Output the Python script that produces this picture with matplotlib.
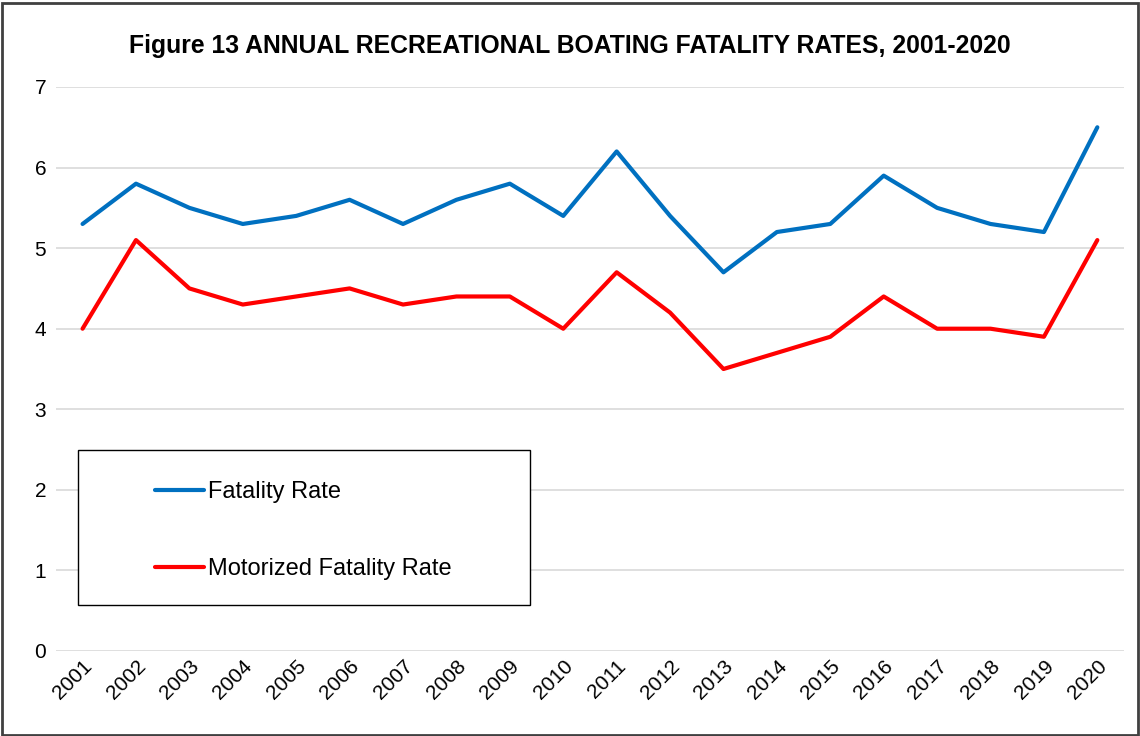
import matplotlib.pyplot as plt
from matplotlib.patches import Rectangle

# ---------- data ----------
years = [str(y) for y in range(2001, 2021)]
fatality_rate = [5.3, 5.8, 5.5, 5.3, 5.4, 5.6, 5.3, 5.6, 5.8, 5.4,
                 6.2, 5.4, 4.7, 5.2, 5.3, 5.9, 5.5, 5.3, 5.2, 6.5]
motorized_rate = [4.0, 5.1, 4.5, 4.3, 4.4, 4.5, 4.3, 4.4, 4.4, 4.0,
                  4.7, 4.2, 3.5, 3.7, 3.9, 4.4, 4.0, 4.0, 3.9, 5.1]
y_ticks = list(range(0, 8))

plt.rcParams['font.family'] = ['Liberation Sans', 'DejaVu Sans']

fig = plt.figure(figsize=(11.4, 7.36), dpi=100)
ax = fig.add_axes([0.049, 0.1155, 0.937, 0.7663])

x = range(len(years))
ax.plot(x, fatality_rate, color='#0070C0', lw=3.0, label='Fatality Rate',
        solid_joinstyle='round', solid_capstyle='round')
ax.plot(x, motorized_rate, color='#FF0000', lw=3.0, label='Motorized Fatality Rate',
        solid_joinstyle='round', solid_capstyle='round')

ax.set_xlim(-0.5, len(years) - 0.5)
ax.set_ylim(0, 7)
ax.set_yticks(y_ticks)
ax.set_yticklabels([str(v) for v in y_ticks], fontsize=15)
ax.set_xticks(list(x))
ax.set_xticklabels(years, rotation=45, ha='right', rotation_mode='anchor', fontsize=15)
ax.tick_params(axis='both', length=0)
ax.tick_params(axis='y', pad=7)
ax.tick_params(axis='x', pad=4)

ax.grid(axis='y', color='#d9d9d9', lw=1.2)
ax.set_axisbelow(True)
for s in ax.spines.values():
    s.set_visible(False)

# legend box drawn separately, entries placed inside it
ax.add_patch(Rectangle((0.0206, 0.0816), 0.4232, 0.2748, transform=ax.transAxes,
                       facecolor='white', edgecolor='black', lw=1.0, zorder=3))
ax.legend(loc='upper left', bbox_to_anchor=(0.0927, 0.301), frameon=False,
          fontsize=17, handlelength=2.1, handletextpad=0.15,
          labelspacing=2.32, borderpad=0, borderaxespad=0).set_zorder(4)

fig.text(0.5, 0.937, 'Figure 13 ANNUAL RECREATIONAL BOATING FATALITY RATES, 2001-2020',
         ha='center', va='center', fontsize=17.8, fontweight='bold')

# outer frame around the whole chart
fig.patches.append(Rectangle((0.002, 0.002), 0.996, 0.994, transform=fig.transFigure,
                             fill=False, edgecolor='#404040', lw=2))

fig.savefig('out.png', dpi=100)
